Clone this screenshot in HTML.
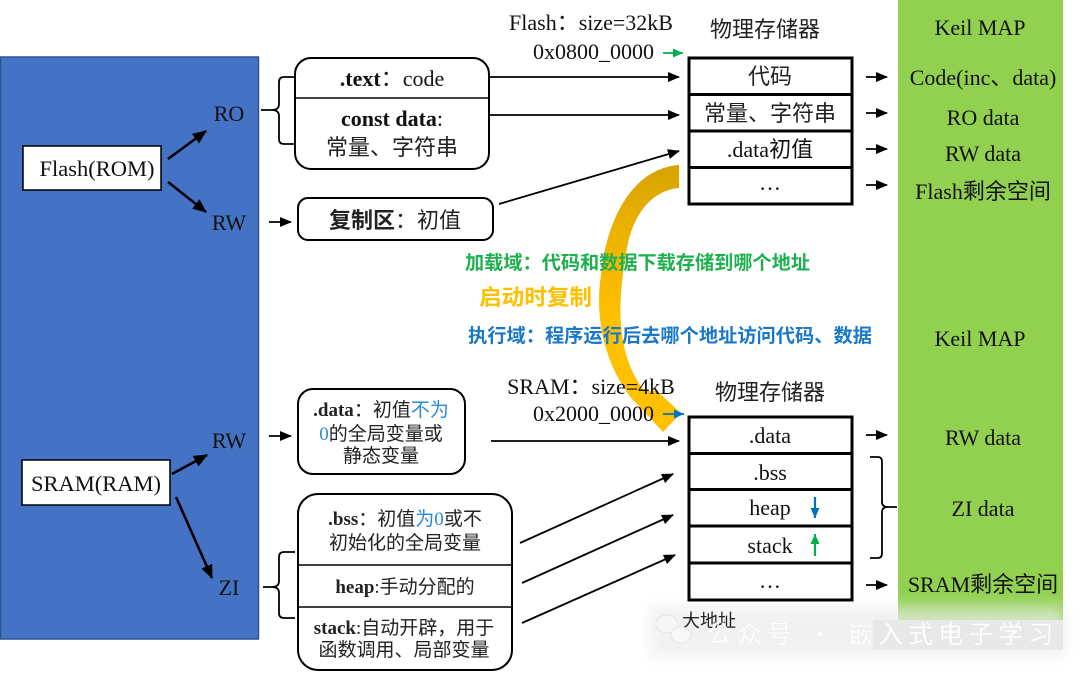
<!DOCTYPE html>
<html>
<head>
<meta charset="utf-8">
<style>
html,body{margin:0;padding:0;background:#fff;}
body{width:1080px;height:673px;overflow:hidden;}
svg{display:block;}
.s{font-family:"Liberation Serif","Noto Sans CJK SC",serif;font-size:22px;fill:#111;}
.c{font-family:"Noto Sans CJK SC","WenQuanYi Zen Hei",sans-serif;font-size:22px;fill:#222;}
.m{font-family:"Liberation Serif","Noto Sans CJK SC",serif;font-size:19px;fill:#222;}
.b{font-weight:bold;}
.bl{fill:#2a8ad6;}
.ln{stroke:#000;stroke-width:1.8;fill:none;}
.tk{stroke:#000;stroke-width:2.6;fill:none;}
</style>
</head>
<body>
<svg width="1080" height="673" viewBox="0 0 1080 673" xmlns="http://www.w3.org/2000/svg">
<defs>
  <marker id="ah" markerUnits="userSpaceOnUse" markerWidth="12" markerHeight="10" refX="11" refY="5" orient="auto">
    <path d="M0,0 L12,5 L0,10 z" fill="#000"/>
  </marker>
  <marker id="ahb" markerUnits="userSpaceOnUse" markerWidth="14" markerHeight="12" refX="13" refY="6" orient="auto">
    <path d="M0,0 L14,6 L0,12 z" fill="#000"/>
  </marker>
  <marker id="ahg" markerUnits="userSpaceOnUse" markerWidth="10" markerHeight="9" refX="10" refY="4.5" orient="auto">
    <path d="M0,0 L10,4.5 L0,9 z" fill="#00b050"/>
  </marker>
  <marker id="ahu" markerUnits="userSpaceOnUse" markerWidth="10" markerHeight="9" refX="10" refY="4.5" orient="auto">
    <path d="M0,0 L10,4.5 L0,9 z" fill="#0070c0"/>
  </marker>
  <linearGradient id="yg" x1="0" y1="165" x2="0" y2="320" gradientUnits="userSpaceOnUse">
    <stop offset="0" stop-color="#d6a200"/>
    <stop offset="0.35" stop-color="#e8b000"/>
    <stop offset="1" stop-color="#ffc000"/>
  </linearGradient>
  <filter id="blr" x="-20%" y="-50%" width="140%" height="200%"><feGaussianBlur stdDeviation="7"/></filter>
</defs>

<!-- Left blue panel -->
<rect x="0.5" y="57" width="258" height="582" fill="#4472c4" stroke="#2f528f" stroke-width="1.5"/>

<!-- Green panel -->
<rect x="898" y="0" width="165" height="620" fill="#92d050"/>

<!-- Watermark backdrop -->
<rect x="650" y="606" width="415" height="52" fill="#ececec" filter="url(#blr)" opacity="0.7"/>
<rect x="873" y="620" width="190" height="30" fill="#e8e8e8"/>

<!-- Flash(ROM) -->
<rect x="23" y="146" width="138" height="44" fill="#fff" stroke="#000" stroke-width="1.5"/>
<text class="s" x="97" y="176" text-anchor="middle" style="font-size:22.5px">Flash(ROM)</text>
<text class="s" x="229" y="121" text-anchor="middle">RO</text>
<text class="s" x="229" y="230" text-anchor="middle">RW</text>
<line class="tk" x1="168" y1="159" x2="206" y2="131" marker-end="url(#ahb)"/>
<line class="tk" x1="168" y1="182" x2="206" y2="212" marker-end="url(#ahb)"/>

<!-- RO bracket -->
<path class="ln" d="M294 77 L284 77 Q279 77 279 82 L279 104 Q279 110 272 110 L261 110 M272 110 Q279 110 279 116 L279 139 Q279 144 284 144 L294 144"/>

<!-- RO box -->
<rect x="295" y="58" width="194" height="111" rx="16" fill="#fff" stroke="#000" stroke-width="2"/>
<line x1="295" y1="98" x2="489" y2="98" stroke="#000" stroke-width="1.5"/>
<text class="s" x="392" y="86" text-anchor="middle"><tspan class="b">.text</tspan>：code</text>
<text class="s" x="392" y="126" text-anchor="middle"><tspan class="b">const data</tspan>:</text>
<text class="c" x="392" y="155" text-anchor="middle">常量、字符串</text>

<!-- RW copy box -->
<line class="ln" x1="269" y1="222" x2="291" y2="222" marker-end="url(#ah)"/>
<rect x="298" y="198" width="195" height="42" rx="10" fill="#fff" stroke="#000" stroke-width="2"/>
<text class="c" x="395" y="228" text-anchor="middle"><tspan font-weight="bold">复制区</tspan>：初值</text>

<!-- lines to flash table -->
<line class="ln" x1="490" y1="77" x2="679" y2="77" marker-end="url(#ah)"/>
<line class="ln" x1="490" y1="115" x2="679" y2="115" marker-end="url(#ah)"/>
<line class="ln" x1="499" y1="204" x2="679" y2="151" marker-end="url(#ah)"/>

<!-- Flash header -->
<text class="s" x="591" y="30" text-anchor="middle">Flash：size=32kB</text>
<text class="s" x="654" y="59" text-anchor="end">0x0800_0000</text>
<line x1="663" y1="53" x2="683" y2="53" stroke="#00b050" stroke-width="1.8" marker-end="url(#ahg)"/>
<text class="c" x="765" y="37" text-anchor="middle">物理存储器</text>

<!-- Flash table -->
<rect x="689" y="58" width="163" height="146" fill="#fff" stroke="#000" stroke-width="3"/>
<line x1="689" y1="94.5" x2="852" y2="94.5" stroke="#000" stroke-width="3"/>
<line x1="689" y1="131" x2="852" y2="131" stroke="#000" stroke-width="3"/>
<line x1="689" y1="167.5" x2="852" y2="167.5" stroke="#000" stroke-width="3"/>
<text class="c" x="770" y="84" text-anchor="middle">代码</text>
<text class="c" x="770" y="121" text-anchor="middle">常量、字符串</text>
<text class="s" x="770" y="157" text-anchor="middle">.data<tspan font-family="Noto Sans CJK SC, sans-serif">初值</tspan></text>
<text class="s" x="770" y="190" text-anchor="middle">…</text>

<line class="ln" x1="866" y1="77" x2="887" y2="77" marker-end="url(#ah)"/>
<line class="ln" x1="866" y1="113" x2="887" y2="113" marker-end="url(#ah)"/>
<line class="ln" x1="866" y1="149" x2="887" y2="149" marker-end="url(#ah)"/>
<line class="ln" x1="866" y1="185" x2="887" y2="185" marker-end="url(#ah)"/>

<!-- Green panel labels -->
<text class="s" x="980" y="35" text-anchor="middle">Keil MAP</text>
<text class="s" x="983" y="85" text-anchor="middle">Code(inc、data)</text>
<text class="s" x="983" y="125" text-anchor="middle">RO data</text>
<text class="s" x="983" y="161" text-anchor="middle">RW data</text>
<text class="s" x="983" y="199" text-anchor="middle">Flash剩余空间</text>
<text class="s" x="980" y="346" text-anchor="middle">Keil MAP</text>
<text class="s" x="983" y="445" text-anchor="middle">RW data</text>
<text class="s" x="983" y="516" text-anchor="middle">ZI data</text>
<text class="s" x="983" y="592" text-anchor="middle">SRAM剩余空间</text>

<!-- Yellow curved arrow -->
<path d="M679 165 L679 188 C655 190 634 210 627 248 C618 298 614 350 644 391 L657 391 L681 413 L663 432 L638 405 L632 399 C606 366 594 320 601 275 C607 215 635 168 679 165 Z" fill="url(#yg)"/>

<!-- Colored middle texts -->
<text x="465" y="269" textLength="345" lengthAdjust="spacingAndGlyphs" style="font-family:'Noto Sans CJK SC',sans-serif;font-size:19px;font-weight:bold;fill:#1db04f;">加载域：代码和数据下载存储到哪个地址</text>
<text x="479" y="305" textLength="113" lengthAdjust="spacingAndGlyphs" style="font-family:'Noto Sans CJK SC',sans-serif;font-size:22px;font-weight:bold;fill:#ffc000;">启动时复制</text>
<text x="468" y="342" textLength="404" lengthAdjust="spacingAndGlyphs" style="font-family:'Noto Sans CJK SC',sans-serif;font-size:19px;font-weight:bold;fill:#1a78c8;">执行域：程序运行后去哪个地址访问代码、数据</text>

<!-- SRAM header -->
<text class="s" x="591" y="394" text-anchor="middle">SRAM：size=4kB</text>
<text class="s" x="654" y="421" text-anchor="end">0x2000_0000</text>
<line x1="663" y1="414" x2="684" y2="414" stroke="#0070c0" stroke-width="1.8" marker-end="url(#ahu)"/>
<text class="c" x="770" y="400" text-anchor="middle">物理存储器</text>

<!-- SRAM table -->
<rect x="689" y="417" width="163" height="183" fill="#fff" stroke="#000" stroke-width="3"/>
<line x1="689" y1="453.5" x2="852" y2="453.5" stroke="#000" stroke-width="3"/>
<line x1="689" y1="489.5" x2="852" y2="489.5" stroke="#000" stroke-width="3"/>
<line x1="689" y1="526" x2="852" y2="526" stroke="#000" stroke-width="3"/>
<line x1="689" y1="563" x2="852" y2="563" stroke="#000" stroke-width="3"/>
<text class="s" x="770" y="443" text-anchor="middle">.data</text>
<text class="s" x="770" y="480" text-anchor="middle">.bss</text>
<text class="s" x="770" y="515" text-anchor="middle">heap</text>
<text class="s" x="770" y="553" text-anchor="middle">stack</text>
<text class="s" x="770" y="588" text-anchor="middle">…</text>
<line x1="815" y1="497" x2="815" y2="518" stroke="#0070c0" stroke-width="2.2" marker-end="url(#ahu)"/>
<line x1="815" y1="556" x2="815" y2="534" stroke="#00b050" stroke-width="2.2" marker-end="url(#ahg)"/>

<line class="ln" x1="866" y1="435" x2="887" y2="435" marker-end="url(#ah)"/>
<line class="ln" x1="866" y1="585" x2="887" y2="585" marker-end="url(#ah)"/>
<path class="ln" d="M870 457 L878 457 Q882 457 882 462 L882 502 Q882 507 888 507 L897 507 M888 507 Q882 507 882 512 L882 553 Q882 558 878 558 L870 558"/>

<!-- SRAM(RAM) -->
<rect x="22" y="460" width="148" height="45" fill="#fff" stroke="#000" stroke-width="1.5"/>
<text class="s" x="96" y="491" text-anchor="middle" style="font-size:22.5px">SRAM(RAM)</text>
<text class="s" x="229" y="448" text-anchor="middle">RW</text>
<text class="s" x="229" y="595" text-anchor="middle">ZI</text>
<line class="tk" x1="172" y1="474" x2="207" y2="455" marker-end="url(#ahb)"/>
<line class="tk" x1="176" y1="497" x2="212" y2="578" marker-end="url(#ahb)"/>

<!-- .data box -->
<line class="ln" x1="269" y1="436" x2="291" y2="436" marker-end="url(#ah)"/>
<rect x="298" y="389" width="167" height="85" rx="15" fill="#fff" stroke="#000" stroke-width="2"/>
<text class="m" x="381" y="416" text-anchor="middle"><tspan class="b">.data</tspan>：初值<tspan class="bl">不为</tspan></text>
<text class="m" x="381" y="440" text-anchor="middle"><tspan class="bl">0</tspan>的全局变量或</text>
<text class="m" x="381" y="462" text-anchor="middle">静态变量</text>
<line class="ln" x1="491" y1="441" x2="679" y2="441" marker-end="url(#ah)"/>

<!-- ZI bracket -->
<path class="ln" d="M295 552 L284 552 Q279 552 279 557 L279 581 Q279 587 272 587 L263 587 M272 587 Q279 587 279 593 L279 613 Q279 618 284 618 L295 618"/>

<!-- .bss / heap / stack box -->
<rect x="298" y="494" width="214" height="176" rx="20" fill="#fff" stroke="#000" stroke-width="2"/>
<line x1="298" y1="565" x2="512" y2="565" stroke="#000" stroke-width="1.5"/>
<line x1="298" y1="607" x2="512" y2="607" stroke="#000" stroke-width="1.5"/>
<text class="m" x="405" y="525" text-anchor="middle"><tspan class="b">.bss</tspan>：初值<tspan class="bl">为0</tspan>或不</text>
<text class="m" x="405" y="549" text-anchor="middle">初始化的全局变量</text>
<text class="m" x="405" y="593" text-anchor="middle"><tspan class="b">heap</tspan>:手动分配的</text>
<text class="m" x="404" y="634" text-anchor="middle"><tspan class="b">stack</tspan>:自动开辟，用于</text>
<text class="m" x="404" y="656" text-anchor="middle">函数调用、局部变量</text>

<line class="ln" x1="520" y1="543" x2="673" y2="474" marker-end="url(#ah)"/>
<line class="ln" x1="522" y1="583" x2="673" y2="515" marker-end="url(#ah)"/>
<line class="ln" x1="522" y1="623" x2="675" y2="555" marker-end="url(#ah)"/>

<!-- 大地址 -->
<text x="709" y="627" text-anchor="middle" style="font-family:'Noto Sans CJK SC',sans-serif;font-size:18px;fill:#222;">大地址</text>

<!-- Watermark -->
<ellipse cx="667" cy="624" rx="11" ry="9" fill="#f6f6f6" stroke="#e4e4e4" stroke-width="1"/>
<ellipse cx="681" cy="635" rx="10" ry="8" fill="#f8f8f8" stroke="#e4e4e4" stroke-width="1"/>
<text x="707" y="643" style="font-family:'Noto Sans CJK SC',sans-serif;font-size:25px;fill:#ffffff;stroke:#eeeeee;stroke-width:0.4;letter-spacing:5px;">公众号 · 嵌入式电子学习</text>
</svg>
</body>
</html>
